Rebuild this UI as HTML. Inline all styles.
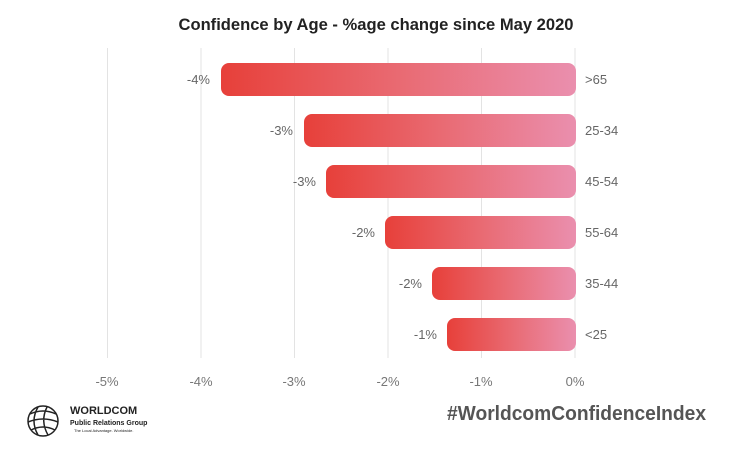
<!DOCTYPE html>
<html><head><meta charset="utf-8"><style>
body{margin:0;background:#fff;width:752px;height:447px;overflow:hidden;font-family:"Liberation Sans",sans-serif}
</style></head><body>
<svg width="752" height="447" viewBox="0 0 752 447" xmlns="http://www.w3.org/2000/svg" font-family="Liberation Sans, sans-serif">
<defs><linearGradient id="g" x1="0" x2="1" y1="0" y2="0"><stop offset="0" stop-color="#e7403a"/><stop offset="0.5" stop-color="#e96a72"/><stop offset="1" stop-color="#ea8fae"/></linearGradient></defs>
<text x="376" y="30" text-anchor="middle" font-size="17" font-weight="bold" fill="#222" textLength="395" lengthAdjust="spacingAndGlyphs">Confidence by Age - %age change since May 2020</text>
<g stroke="#e3e3e3" stroke-width="1">
<line x1="107.5" y1="48" x2="107.5" y2="358"/><line x1="201" y1="48" x2="201" y2="358"/><line x1="294.5" y1="48" x2="294.5" y2="358"/><line x1="388" y1="48" x2="388" y2="358"/><line x1="481.5" y1="48" x2="481.5" y2="358"/><line x1="575" y1="48" x2="575" y2="358"/>
</g>
<g fill="url(#g)">
<rect x="221" y="63" width="355" height="33" rx="8"/>
<rect x="304" y="114" width="272" height="33" rx="8"/>
<rect x="326" y="165" width="250" height="33" rx="8"/>
<rect x="385" y="216" width="191" height="33" rx="8"/>
<rect x="432" y="267" width="144" height="33" rx="8"/>
<rect x="447" y="318" width="129" height="33" rx="8"/>
</g>
<g font-size="13" fill="#666" text-anchor="end">
<text x="210" y="84">-4%</text><text x="293" y="135">-3%</text><text x="316" y="186">-3%</text><text x="375" y="237">-2%</text><text x="422" y="288">-2%</text><text x="437" y="339">-1%</text>
</g>
<g font-size="13" fill="#666">
<text x="585" y="84">&gt;65</text><text x="585" y="135">25-34</text><text x="585" y="186">45-54</text><text x="585" y="237">55-64</text><text x="585" y="288">35-44</text><text x="585" y="339">&lt;25</text>
</g>
<g font-size="13" fill="#777" text-anchor="middle">
<text x="107" y="386">-5%</text><text x="201" y="386">-4%</text><text x="294" y="386">-3%</text><text x="388" y="386">-2%</text><text x="481" y="386">-1%</text><text x="575" y="386">0%</text>
</g>
<g fill="none" stroke="#222" stroke-width="1.5">
<circle cx="43" cy="421" r="15"/>
<path d="M30 414 Q43 408 56 414 M28 422 Q43 416 58 422 M31 430 Q43 424 55 430 M38 407 Q30 421 38 435 M47 407 Q40 421 48 435"/>
</g>
<text x="70" y="414" font-size="11" font-weight="bold" fill="#222">WORLDCOM</text>
<text x="70" y="425" font-size="7" font-weight="bold" fill="#222">Public Relations Group</text>
<text x="74" y="432" font-size="4" fill="#222">The Local Advantage. Worldwide.</text>
<text x="706" y="420" text-anchor="end" font-size="20" font-weight="bold" fill="#555" textLength="259" lengthAdjust="spacingAndGlyphs">#WorldcomConfidenceIndex</text>
</svg>
</body></html>
